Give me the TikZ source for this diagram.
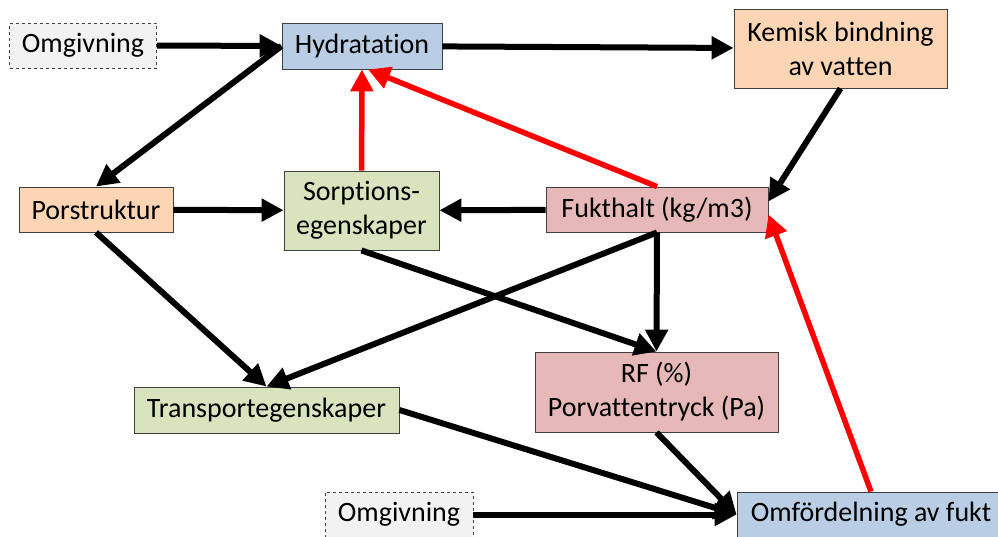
\documentclass[tikz,border=0pt]{standalone}
\usepackage{fontspec}
\setmainfont[Ligatures=NoCommon]{Carlito}
\usetikzlibrary{arrows.meta}

\definecolor{hydblue}{HTML}{B9CDE5}
\definecolor{peach}{HTML}{FCD5B5}
\definecolor{sage}{HTML}{D7E4BD}
\definecolor{rose}{HTML}{E6B9B8}
\definecolor{envgray}{HTML}{F2F2F2}
\definecolor{edgegray}{HTML}{404040}

\begin{document}
\begin{tikzpicture}[x=1pt,y=-1pt,
        box/.style={draw=edgegray, line width=0.9pt, align=center, inner sep=0pt,
                font=\fontsize{28}{34}\selectfont},
        env/.style={box, dashed, fill=envgray},
        pil/.style={line width=6pt, -{Triangle[length=22pt,width=22pt]}},
        redpil/.style={pil, draw=red, fill=red, line width=5.5pt}]
            \useasboundingbox (0,0) rectangle (998,536);

            \node[env, minimum width=147pt, minimum height=45pt] (omg1) at (83,45.5) {Omgivning};
            \node[box, fill=hydblue, minimum width=160pt, minimum height=46pt] (hyd) at (362,46) {Hydratation};
            \node[box, fill=peach, minimum width=213pt, minimum height=79pt] (kem) at (840.5,48.5) {Kemisk bindning\\av vatten};
            \node[box, fill=peach, minimum width=154pt, minimum height=45pt] (por) at (96,209.5) {Porstruktur};
            \node[box, fill=sage, minimum width=155pt, minimum height=79pt] (sorp) at (361.5,210.5) {Sorptions-\\egenskaper};
            \node[box, fill=rose, minimum width=222pt, minimum height=45pt] (fukt) at (657,209.5) {Fukthalt (kg/m3)};
            \node[box, fill=rose, minimum width=243pt, minimum height=80pt] (rf) at (656.5,392) {RF (\%)\\Porvattentryck (Pa)};
            \node[box, fill=sage, minimum width=265pt, minimum height=46pt] (trans) at (266.5,410) {Transportegenskaper};
            \node[env, minimum width=148pt, minimum height=45pt] (omg2) at (399,514.5) {Omgivning};
            \node[box, fill=hydblue, minimum width=268pt, minimum height=45pt] (omf) at (871,514.5) {Omfördelning av fukt};

            \draw[pil] (omg1) -- (hyd);
            \draw[pil] (hyd) -- (kem);
            \draw[pil] (hyd.west) -- (por.north);
            \draw[pil] (por) -- (sorp);
            \draw[pil] (fukt) -- (sorp);
            \draw[pil] (kem.south) -- ([yshift=8pt]fukt.east);
            \draw[pil] (fukt.south) -- (rf.north);
            \draw[pil] (fukt.south) -- (trans.north);
            \draw[pil] (por.south) -- (trans.north);
            \draw[pil] (sorp.south) -- (rf.north);
            \draw[pil] (trans.east) -- (omf.west);
            \draw[pil] (rf.south) -- (omf.west);
            \draw[pil] (omg2) -- (omf);

            \draw[redpil] (sorp) -- (hyd);
            \draw[redpil] (fukt.north) -- ([xshift=6pt]hyd.south);
            \draw[redpil] (omf.north) -- ([yshift=-5pt]fukt.east);
        \end{tikzpicture}
\end{document}
